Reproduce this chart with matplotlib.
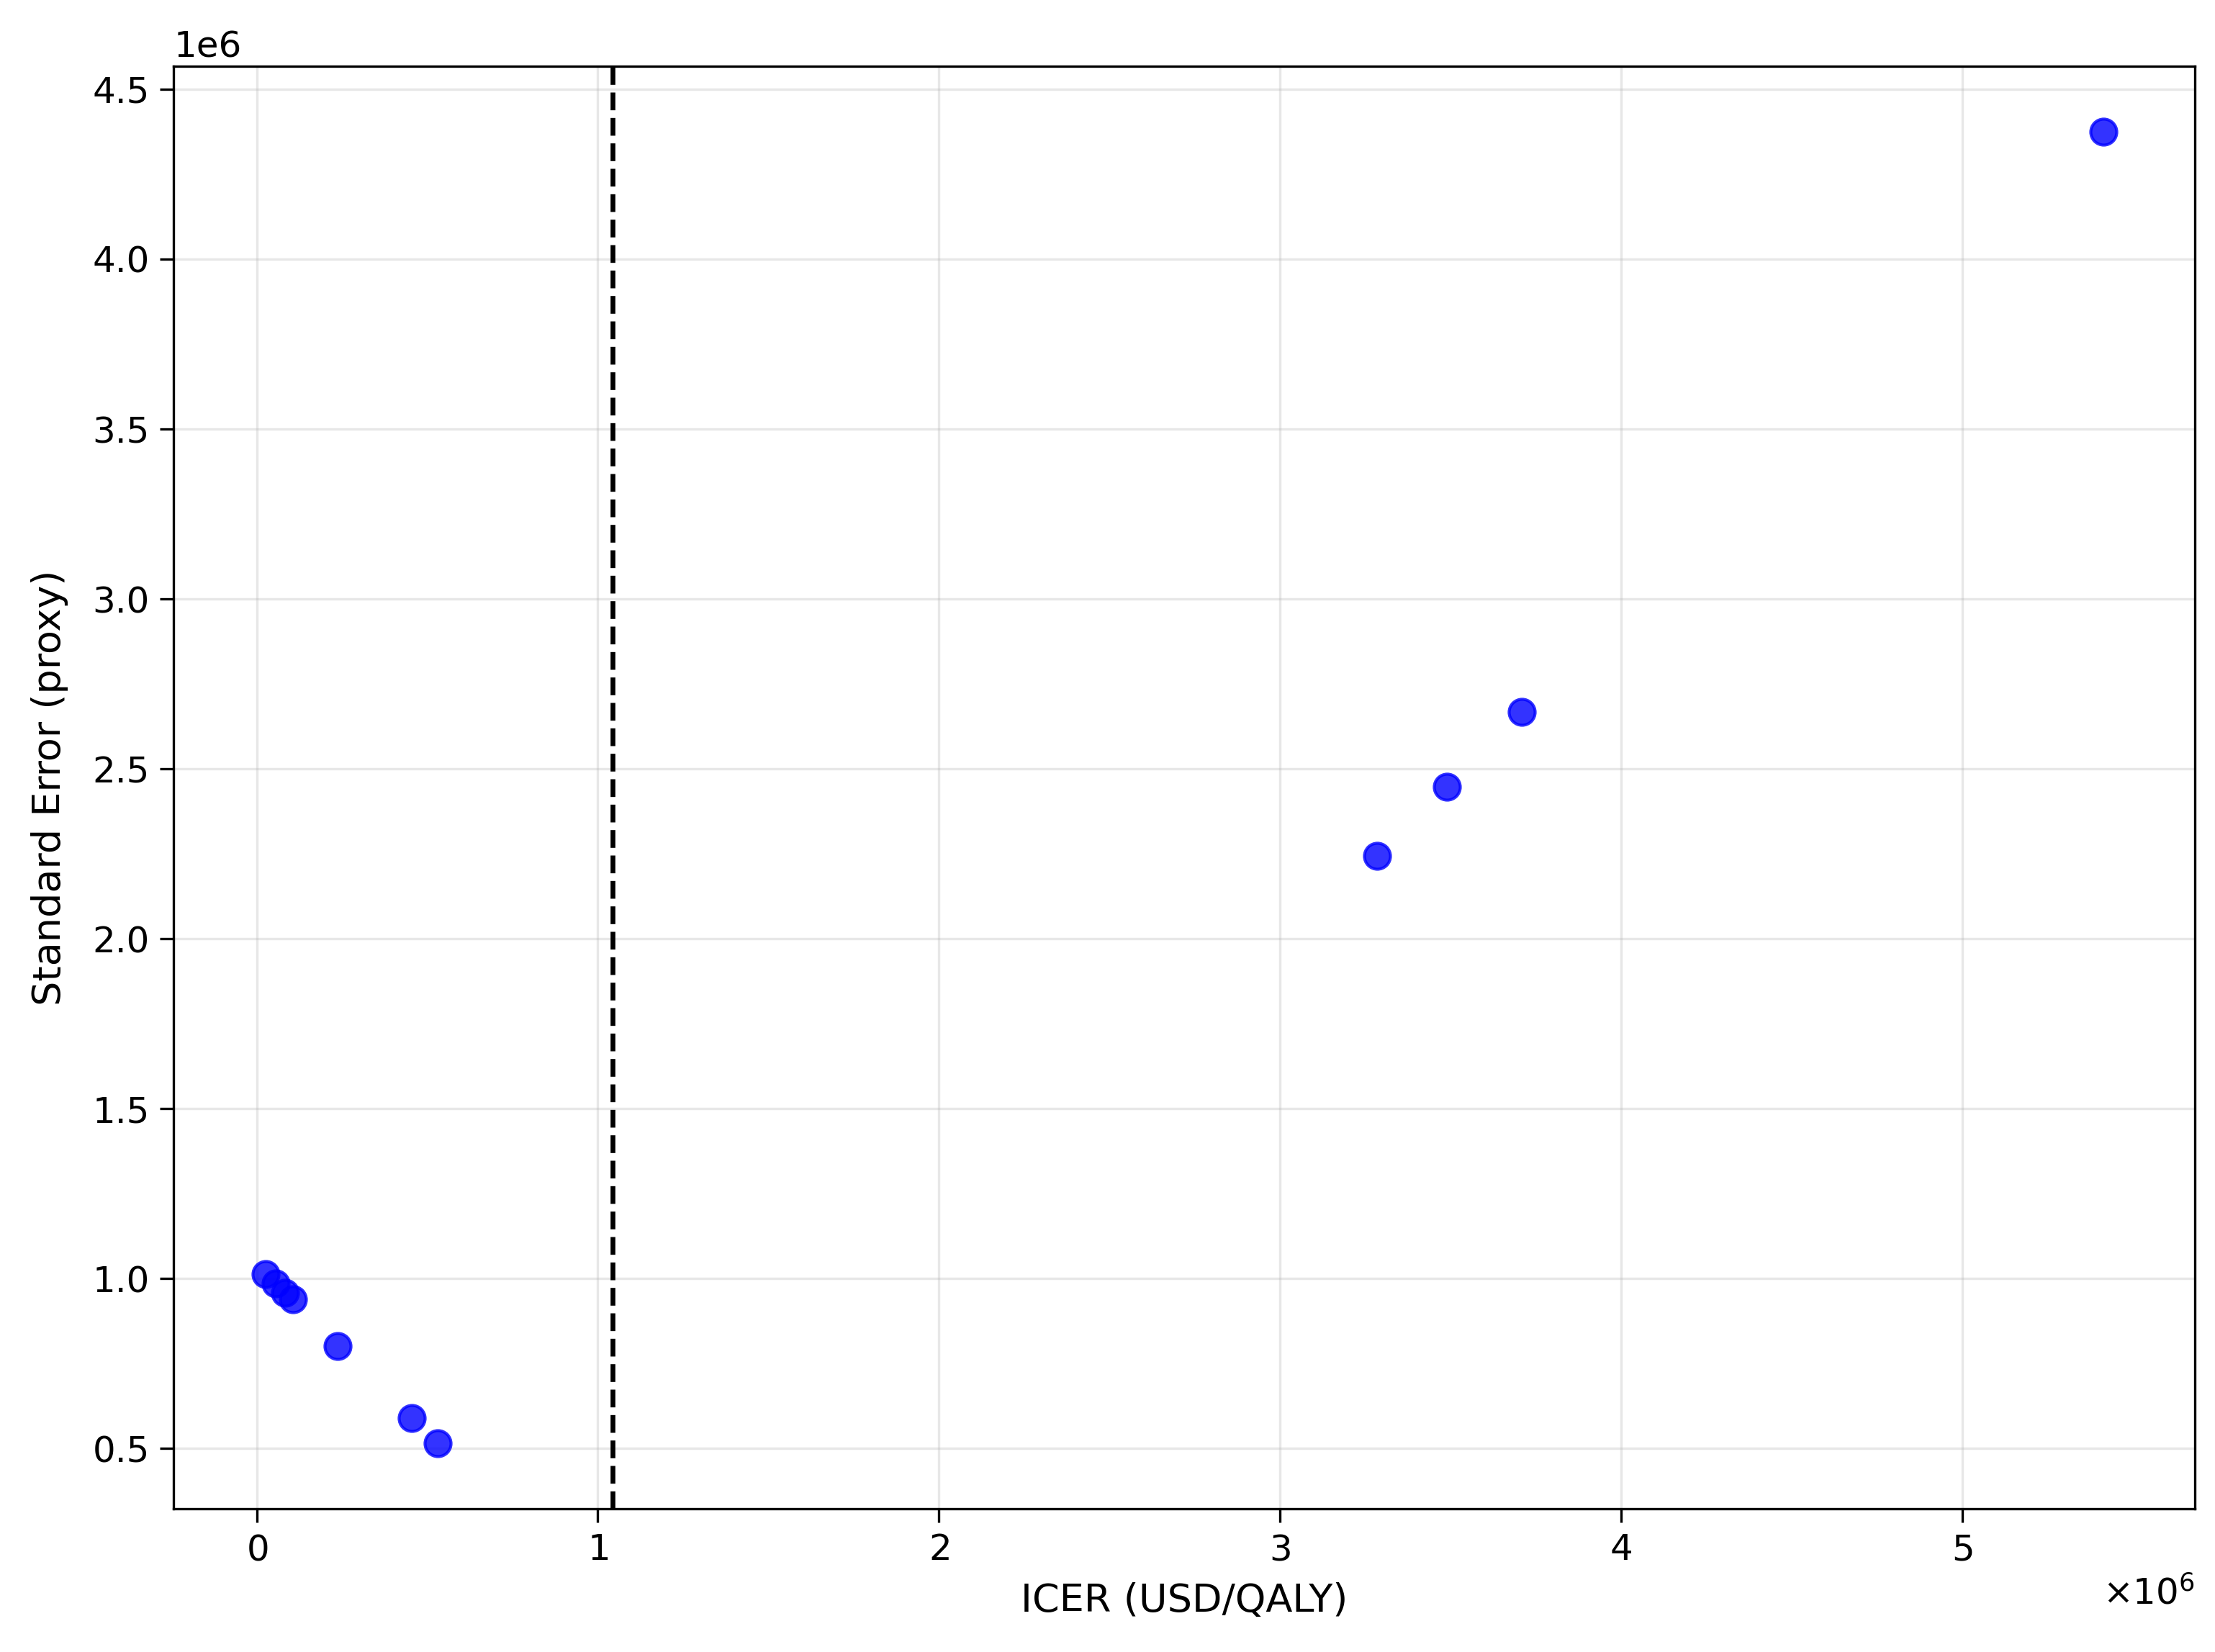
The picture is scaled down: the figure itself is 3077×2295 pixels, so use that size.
import numpy as np
import matplotlib.pyplot as plt
from matplotlib.ticker import ScalarFormatter

# ICER (USD/QALY) and standard error proxy
icer = [25700, 55000, 83000, 106000, 238000, 454000, 530000,
        3286000, 3489000, 3709000, 5414000]
std_err = [1013000, 987000, 959000, 939000, 802000, 590000, 516000,
           2245000, 2448000, 2668000, 4375000]
threshold = 1043000

plt.rcParams['font.size'] = 12
plt.rcParams['xtick.major.size'] = 4.5
plt.rcParams['ytick.major.size'] = 4.5

fig = plt.figure(figsize=(3077 / 300, 2295 / 300), dpi=300)
ax = fig.add_axes([0.0784, 0.0867, 0.9126, 0.8733])

ax.scatter(icer, std_err, s=75, color='blue', alpha=0.8, zorder=3)
ax.axvline(threshold, color='black', linestyle='--', linewidth=1.6)

ax.set_xlabel('ICER (USD/QALY)', fontsize=13, labelpad=5)
ax.set_ylabel('Standard Error (proxy)', fontsize=13, labelpad=8)
ax.grid(True, alpha=0.3)

xfmt = ScalarFormatter(useMathText=True)
ax.xaxis.set_major_formatter(xfmt)

fig.savefig('out.png', dpi=300)
